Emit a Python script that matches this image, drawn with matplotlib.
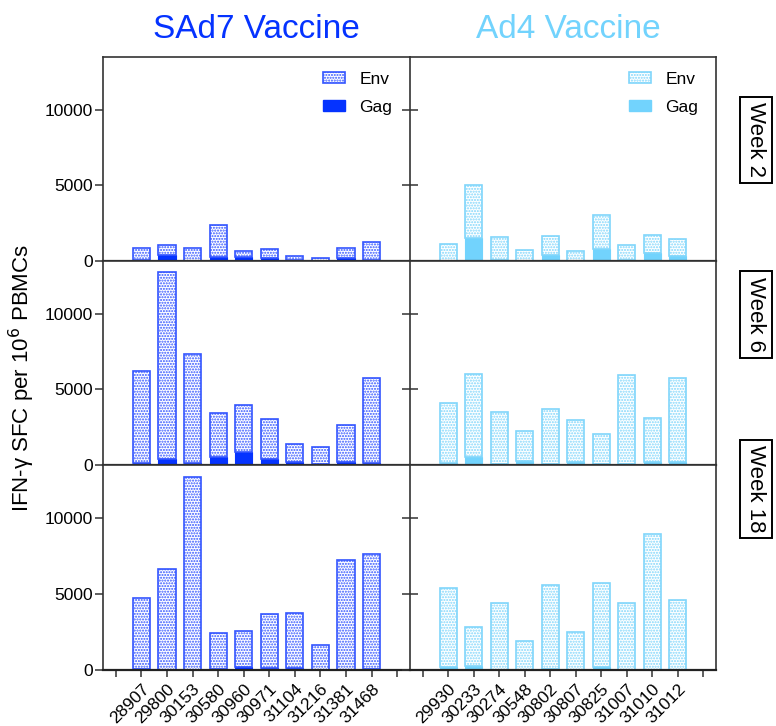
import matplotlib
matplotlib.use("Agg")
import matplotlib.pyplot as plt
from matplotlib.patches import Patch
import numpy as np

plt.rcParams['font.family'] = ['Liberation Sans', 'DejaVu Sans']
plt.rcParams['hatch.linewidth'] = 1.0

sad7_ids = ["28907", "29800", "30153", "30580", "30960", "30971", "31104", "31216", "31381", "31468"]
ad4_ids = ["29930", "30233", "30274", "30548", "30802", "30807", "30825", "31007", "31010", "31012"]
weeks = ["Week 2", "Week 6", "Week 18"]

# SAd7 vaccine: Gag (bottom) and Env (stacked on top)
sad7_gag_w2 = [60, 420, 30, 270, 260, 200, 50, 30, 220, 60]
sad7_env_w2 = [820, 615, 830, 2130, 380, 590, 300, 146, 660, 1218]
sad7_gag_w6 = [110, 370, 110, 550, 840, 420, 220, 70, 180, 110]
sad7_env_w6 = [6100, 12400, 7220, 2860, 3100, 2600, 1170, 1100, 2440, 5660]
sad7_gag_w18 = [50, 30, 30, 40, 180, 150, 110, 10, 20, 60]
sad7_env_w18 = [4710, 6590, 12700, 2380, 2400, 3520, 3650, 1610, 7250, 7580]

# Ad4 vaccine
ad4_gag_w2 = [30, 1520, 40, 30, 420, 30, 770, 60, 550, 350]
ad4_env_w2 = [1090, 3500, 1520, 720, 1210, 650, 2270, 980, 1150, 1130]
ad4_gag_w6 = [100, 550, 50, 290, 50, 200, 60, 40, 200, 220]
ad4_env_w6 = [4000, 5460, 3430, 1940, 3630, 2750, 1970, 5890, 2880, 5510]
ad4_gag_w18 = [220, 290, 20, 20, 40, 20, 180, 20, 20, 20]
ad4_env_w18 = [5180, 2550, 4360, 1910, 5540, 2490, 5580, 4360, 8940, 4560]

sad7_gag = [sad7_gag_w2, sad7_gag_w6, sad7_gag_w18]
sad7_env = [sad7_env_w2, sad7_env_w6, sad7_env_w18]
ad4_gag = [ad4_gag_w2, ad4_gag_w6, ad4_gag_w18]
ad4_env = [ad4_env_w2, ad4_env_w6, ad4_env_w18]

yticks = [0, 5000, 10000]
YMAX = 13500

BLUE = '#0533ff'
BLUE_EDGE = '#3355ff'
LBLUE = '#72d3fd'
LBLUE_EDGE = '#80d6fb'
SPINE = '#333333'

W, H = 776, 726
fig = plt.figure(figsize=(W / 100, H / 100), dpi=100)

col_left = [103, 410]
col_w = [307, 306]
row_top = [57, 261, 465]
row_bot = [261, 465, 670]

def fx(px):
    return px / W

def fy(py):
    return 1 - py / H

for r in range(3):
    for c in range(2):
        ax = fig.add_axes([fx(col_left[c]), fy(row_bot[r]), fx(col_w[c]),
                           (row_bot[r] - row_top[r]) / H])
        if c == 0:
            gag, env, ids = sad7_gag[r], sad7_env[r], sad7_ids
            col, ecol = BLUE, BLUE_EDGE
        else:
            gag, env, ids = ad4_gag[r], ad4_env[r], ad4_ids
            col, ecol = LBLUE, LBLUE_EDGE
        x = np.arange(1, len(ids) + 1)
        ax.bar(x, gag, width=0.67, color=col, edgecolor=col, linewidth=0.8, zorder=2)
        ax.bar(x, env, bottom=gag, width=0.67, facecolor='white', edgecolor=ecol,
               hatch='......', linewidth=1.2, zorder=2)
        ax.set_xlim(-0.5, 11.5)
        ax.set_ylim(0, YMAX)
        ax.set_yticks(yticks)
        ax.set_xticks(np.arange(0, 12))
        for s in ax.spines.values():
            s.set_color(SPINE)
            s.set_linewidth(1.2)
        ax.spines['bottom'].set_color('#222222')
        ax.spines['bottom'].set_linewidth(1.6)
        if c == 0:
            ax.spines['right'].set_visible(False)
            ax.tick_params(axis='y', direction='out', length=6, width=1.1, color=SPINE,
                           labelsize=12.5, pad=1)
        else:
            ax.tick_params(axis='y', direction='inout', length=11, width=1.1, color=SPINE,
                           labelleft=False)
        ax.tick_params(axis='x', direction='out', length=5, width=1.1, color=SPINE)
        if r == 2:
            labels = [''] + ids + ['']
            ax.set_xticklabels(labels, rotation=45, ha='right', rotation_mode='anchor',
                               fontsize=12.5)
            ax.tick_params(axis='x', pad=3)
        else:
            ax.set_xticklabels([])
        if r == 0:
            handles = [Patch(facecolor='white', edgecolor=ecol, hatch='......', linewidth=1.2),
                       Patch(facecolor=col, edgecolor=col)]
            ax.legend(handles, ['Env', 'Gag'], loc='upper right', frameon=False,
                      fontsize=12.5, handlelength=1.3, handleheight=0.65,
                      labelspacing=0.75, handletextpad=0.8, borderpad=0.85,
                      borderaxespad=0, bbox_to_anchor=(0.99, 1.0))

fig.text(fx(256), fy(30), 'SAd7 Vaccine', color=BLUE, fontsize=24, ha='center', va='center')
fig.text(fx(568), fy(30), 'Ad4 Vaccine', color=LBLUE, fontsize=24, ha='center', va='center')

fig.text(fx(22), fy(378), 'IFN-γ SFC per 10$^{6}$ PBMCs', rotation=90, fontsize=16,
         ha='center', va='center')

week_y = [140, 314.5, 489]
for wk, yy in zip(weeks, week_y):
    fig.text(fx(756), fy(yy), wk, rotation=-90, fontsize=16, ha='center', va='center',
             bbox=dict(boxstyle='square,pad=0.25', facecolor='white', edgecolor='black',
                       linewidth=1.4))

fig.savefig('out.png', dpi=100)
